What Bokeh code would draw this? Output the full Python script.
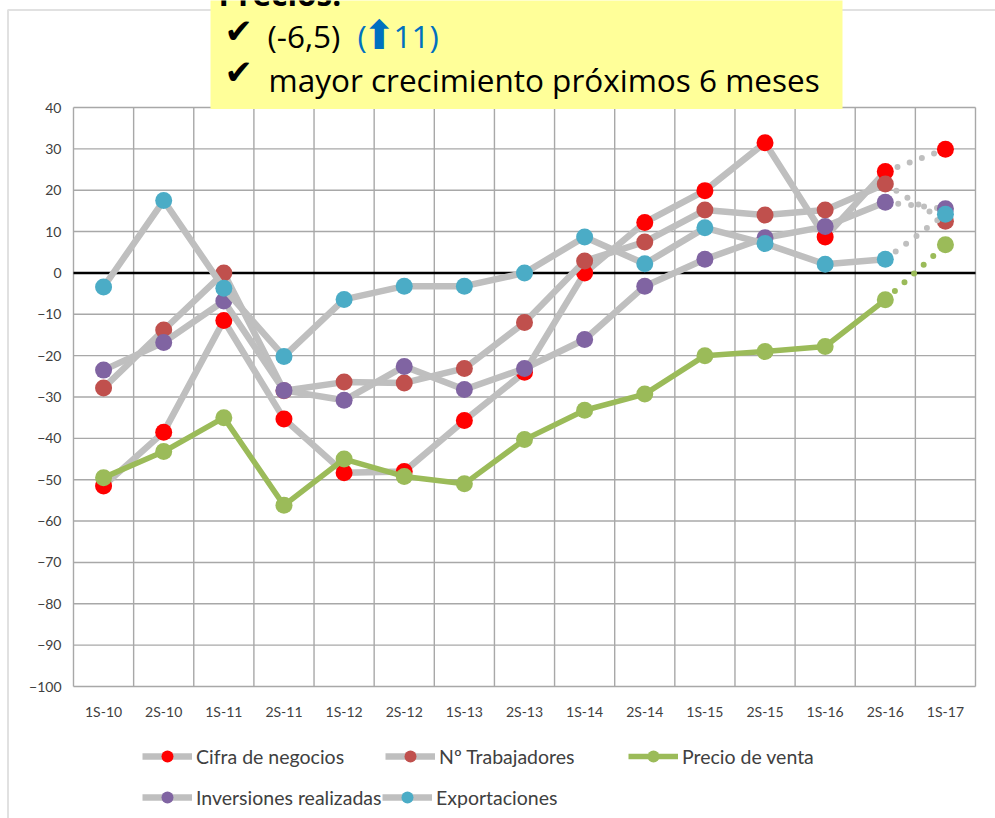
from bokeh.plotting import figure
from bokeh.models import FixedTicker, BoxAnnotation, Label, Legend, LegendItem
from bokeh.embed import file_html
from bokeh.resources import INLINE

categories = ["1S-10", "2S-10", "1S-11", "2S-11", "1S-12", "2S-12", "1S-13", "2S-13",
              "1S-14", "2S-14", "1S-15", "2S-15", "1S-16", "2S-16", "1S-17"]
cifra_negocios = [-51.5, -38.5, -11.5, -35.3, -48.3, -48.0, -35.7, -24.0, 0.0, 12.2, 19.9, 31.5, 8.7, 24.5, 29.9]
trabajadores = [-27.8, -13.8, 0.0, -28.5, -26.4, -26.6, -23.1, -12.0, 2.9, 7.5, 15.2, 14.0, 15.2, 21.5, 12.5]
precio_venta = [-49.5, -43.2, -35.0, -56.2, -45.0, -49.2, -51.0, -40.3, -33.2, -29.3, -20.0, -19.0, -17.8, -6.5, 6.8]
inversiones = [-23.5, -16.8, -6.8, -28.4, -30.8, -22.6, -28.2, -23.1, -16.1, -3.2, 3.3, 8.5, 11.2, 17.1, 15.5]
exportaciones = [-3.4, 17.5, -3.7, -20.2, -6.4, -3.2, -3.2, 0.0, 8.7, 2.2, 10.9, 7.1, 2.1, 3.3, 14.2]
y_ticks = list(range(-100, 41, 10))
Y_MIN, Y_MAX = -100, 40
N = len(categories)

FONT = "Lato"
NOTE_FONT = "Open Sans"
W, H = 995, 818
# pixel layout of the plot area inside the canvas (the frame covers the whole canvas)
PA_LEFT, PA_RIGHT, PA_TOP, PA_BOTTOM = 73, 975, 107, 686
ux = (PA_RIGHT - PA_LEFT) / N
uy = (PA_BOTTOM - PA_TOP) / (Y_MAX - Y_MIN)
x_range = (-PA_LEFT / ux, N + (W - PA_RIGHT) / ux)
y_range = (Y_MIN - (H - PA_BOTTOM) / uy, Y_MAX + PA_TOP / uy)

p = figure(width=W, height=H, x_range=x_range, y_range=y_range,
           output_backend="svg", toolbar_location=None,
           min_border_left=0, min_border_right=0, min_border_top=0, min_border_bottom=0)
p.background_fill_color = "white"
p.border_fill_color = "white"
p.outline_line_color = None
p.xgrid.visible = False
p.ygrid.visible = False

xs = [i + 0.5 for i in range(N)]
grid_x = list(range(N + 1))

# plot-area gridlines, bounded to the plot area
GRID = "#A8A8A8"
p.segment(x0=grid_x, y0=[Y_MIN] * len(grid_x), x1=grid_x, y1=[Y_MAX] * len(grid_x),
          line_color=GRID, line_width=1.4)
p.segment(x0=[0] * len(y_ticks), y0=y_ticks, x1=[N] * len(y_ticks), y1=y_ticks,
          line_color=GRID, line_width=1.4)
p.segment(x0=[0], y0=[0], x1=[N], y1=[0], line_color="black", line_width=2.5)

p.xaxis.ticker = FixedTicker(ticks=xs)
p.xaxis.major_label_overrides = {x: c for x, c in zip(xs, categories)}
p.xaxis.fixed_location = Y_MIN
p.yaxis.ticker = FixedTicker(ticks=y_ticks)
p.yaxis.fixed_location = 0
for ax in (p.xaxis, p.yaxis):
    ax.axis_line_color = None
    ax.major_tick_line_color = None
    ax.major_tick_out = 0
    ax.major_tick_in = 0
    ax.minor_tick_line_color = None
    ax.major_label_text_font = FONT
    ax.major_label_text_font_size = "14px"
    ax.major_label_text_color = "#404040"
p.xaxis.major_label_standoff = 16
p.yaxis.major_label_standoff = 12

series = [
    ("Cifra de negocios", cifra_negocios, "#FF0000"),
    ("Nº Trabajadores", trabajadores, "#C0504D"),
    ("Precio de venta", precio_venta, "#9BBB59"),
    ("Inversiones realizadas", inversiones, "#8064A2"),
    ("Exportaciones", exportaciones, "#4BACC6"),
]

items = []
for name, vals, col in series:
    green = name == "Precio de venta"
    lc = col if green else "#BFBFBF"
    lw = 5.5 if green else 6.5
    ln = p.line(xs[:-1], vals[:-1], line_color=lc, line_width=lw, line_join="round")
    p.line(xs[-2:], vals[-2:], line_color=lc, line_width=6, line_dash="0 13", line_cap="round")
    sc = p.scatter(xs, vals, size=17, fill_color=col, line_color=None)
    items.append(LegendItem(label=name, renderers=[ln, sc]))

def make_legend(its, loc, lw):
    return Legend(items=its, location=loc, orientation="horizontal",
                  padding=0, margin=0, spacing=0, border_line_color=None, background_fill_alpha=0,
                  glyph_width=50, glyph_height=30, label_height=30, label_width=lw, label_standoff=4,
                  label_text_font=FONT, label_text_font_size="19.5px", label_text_color="#404040")

p.add_layout(make_legend(items[:3], (142, 47), 189))
p.add_layout(make_legend(items[3:], (142, 6), 186))

# outer chart border
p.add_layout(BoxAnnotation(left=7.5, right=1010, top=9.5, bottom=840, left_units="canvas",
                           right_units="canvas", top_units="canvas", bottom_units="canvas",
                           fill_alpha=0, line_color="#9A9A9A", line_width=2, level="overlay"))
# yellow note box
p.add_layout(BoxAnnotation(left=210, right=842, top=-5, bottom=108.5, left_units="canvas",
                           right_units="canvas", top_units="canvas", bottom_units="canvas",
                           fill_color="#FFFF99", fill_alpha=1, line_color=None, level="overlay"))

def lab(x, baseline, text, color="black", size=31.5, style="normal", font=NOTE_FONT):
    p.add_layout(Label(x=x, y=baseline - 0.4 * size, x_units="canvas", y_units="canvas", text=text,
                       text_color=color, text_font_size=f"{size}px", text_font_style=style,
                       text_font=font, text_baseline="alphabetic", level="overlay"))

lab(218, 6, "Precios:", style="bold")
lab(224, 44, "✔", size=34, font="DejaVu Sans")
lab(267, 48, "(-6,5)")
lab(357, 48, "(", color="#0070C0")
lab(362, 50, "⬆", color="#0070C0", size=40, font="DejaVu Sans")
lab(393, 48, "11)", color="#0070C0")
lab(224, 85, "✔", size=34, font="DejaVu Sans")
lab(268, 92, "mayor crecimiento próximos 6 meses")

open("out.html", "w").write(file_html(p, INLINE))
